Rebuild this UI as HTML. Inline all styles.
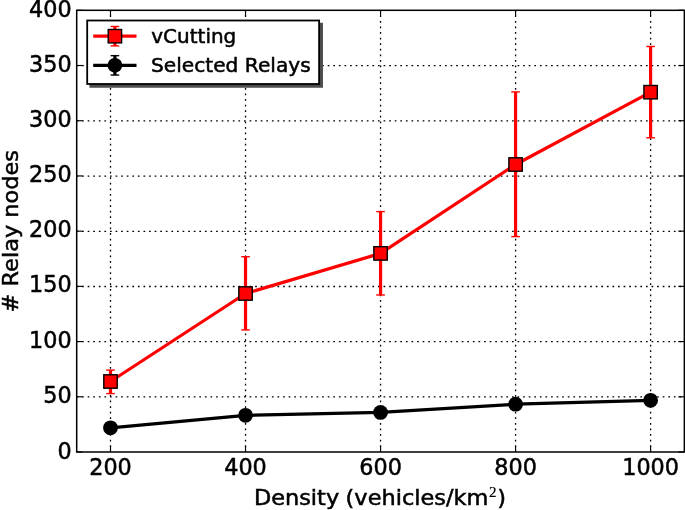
<!DOCTYPE html>
<html><head><meta charset="utf-8"><title>Relay nodes vs density</title>
<style>html,body{margin:0;padding:0;background:#fff}svg{display:block}text{font-family:"DejaVu Sans","Liberation Sans",sans-serif;fill:#000}</style></head><body>
<svg width="685" height="510" viewBox="0 0 685 510">
<rect width="685" height="510" fill="#fff"/>
<g stroke="#000" stroke-width="1.3" stroke-dasharray="1.7 3.883" stroke-dashoffset="0.55" fill="none">
<line x1="110.50" y1="452.0" x2="110.50" y2="10.3"/>
<line x1="245.53" y1="452.0" x2="245.53" y2="10.3"/>
<line x1="380.55" y1="452.0" x2="380.55" y2="10.3"/>
<line x1="515.58" y1="452.0" x2="515.58" y2="10.3"/>
<line x1="650.60" y1="452.0" x2="650.60" y2="10.3"/>
</g>
<g stroke="#000" stroke-width="1.3" stroke-dasharray="1.7 3.883" stroke-dashoffset="0.2" fill="none">
<line x1="76.7" y1="396.94" x2="684.1" y2="396.94"/>
<line x1="76.7" y1="341.72" x2="684.1" y2="341.72"/>
<line x1="76.7" y1="286.51" x2="684.1" y2="286.51"/>
<line x1="76.7" y1="231.30" x2="684.1" y2="231.30"/>
<line x1="76.7" y1="176.09" x2="684.1" y2="176.09"/>
<line x1="76.7" y1="120.88" x2="684.1" y2="120.88"/>
<line x1="76.7" y1="65.66" x2="684.1" y2="65.66"/>
</g>
<polyline points="110.50,381.50 245.53,293.50 380.55,253.40 515.58,164.50 650.60,92.20" fill="none" stroke="#f00" stroke-width="3.2" stroke-linejoin="round"/>
<polyline points="110.50,427.80 245.53,415.30 380.55,412.40 515.58,404.20 650.60,400.30" fill="none" stroke="#000" stroke-width="3.2" stroke-linejoin="round"/>
<g stroke="#f00" fill="none">
<line x1="110.50" y1="370.1" x2="110.50" y2="393.6" stroke-width="3.2"/>
<line x1="106.20" y1="370.1" x2="114.80" y2="370.1" stroke-width="1.4"/>
<line x1="106.20" y1="393.6" x2="114.80" y2="393.6" stroke-width="1.4"/>
<line x1="245.53" y1="256.7" x2="245.53" y2="329.9" stroke-width="3.2"/>
<line x1="241.22" y1="256.7" x2="249.83" y2="256.7" stroke-width="1.4"/>
<line x1="241.22" y1="329.9" x2="249.83" y2="329.9" stroke-width="1.4"/>
<line x1="380.55" y1="211.6" x2="380.55" y2="295.0" stroke-width="3.2"/>
<line x1="376.25" y1="211.6" x2="384.85" y2="211.6" stroke-width="1.4"/>
<line x1="376.25" y1="295.0" x2="384.85" y2="295.0" stroke-width="1.4"/>
<line x1="515.58" y1="91.9" x2="515.58" y2="236.6" stroke-width="3.2"/>
<line x1="511.28" y1="91.9" x2="519.88" y2="91.9" stroke-width="1.4"/>
<line x1="511.28" y1="236.6" x2="519.88" y2="236.6" stroke-width="1.4"/>
<line x1="650.60" y1="46.5" x2="650.60" y2="137.8" stroke-width="3.2"/>
<line x1="646.30" y1="46.5" x2="654.90" y2="46.5" stroke-width="1.4"/>
<line x1="646.30" y1="137.8" x2="654.90" y2="137.8" stroke-width="1.4"/>
</g>
<rect x="103.80" y="374.80" width="13.4" height="13.4" fill="#f00" stroke="#000" stroke-width="1.4"/>
<rect x="238.83" y="286.80" width="13.4" height="13.4" fill="#f00" stroke="#000" stroke-width="1.4"/>
<rect x="373.85" y="246.70" width="13.4" height="13.4" fill="#f00" stroke="#000" stroke-width="1.4"/>
<rect x="508.88" y="157.80" width="13.4" height="13.4" fill="#f00" stroke="#000" stroke-width="1.4"/>
<rect x="643.90" y="85.50" width="13.4" height="13.4" fill="#f00" stroke="#000" stroke-width="1.4"/>
<circle cx="110.50" cy="427.80" r="7.4" fill="#000"/>
<circle cx="245.53" cy="415.30" r="7.4" fill="#000"/>
<circle cx="380.55" cy="412.40" r="7.4" fill="#000"/>
<circle cx="515.58" cy="404.20" r="7.4" fill="#000"/>
<circle cx="650.60" cy="400.30" r="7.4" fill="#000"/>
<g stroke="#000" stroke-width="1.15">
<line x1="110.50" y1="452.0" x2="110.50" y2="446.2"/>
<line x1="110.50" y1="10.3" x2="110.50" y2="16.1"/>
<line x1="245.53" y1="452.0" x2="245.53" y2="446.2"/>
<line x1="245.53" y1="10.3" x2="245.53" y2="16.1"/>
<line x1="380.55" y1="452.0" x2="380.55" y2="446.2"/>
<line x1="380.55" y1="10.3" x2="380.55" y2="16.1"/>
<line x1="515.58" y1="452.0" x2="515.58" y2="446.2"/>
<line x1="515.58" y1="10.3" x2="515.58" y2="16.1"/>
<line x1="650.60" y1="452.0" x2="650.60" y2="446.2"/>
<line x1="650.60" y1="10.3" x2="650.60" y2="16.1"/>
<line x1="76.7" y1="452.00" x2="82.5" y2="452.00"/>
<line x1="684.1" y1="452.00" x2="678.3000000000001" y2="452.00"/>
<line x1="76.7" y1="396.79" x2="82.5" y2="396.79"/>
<line x1="684.1" y1="396.79" x2="678.3000000000001" y2="396.79"/>
<line x1="76.7" y1="341.57" x2="82.5" y2="341.57"/>
<line x1="684.1" y1="341.57" x2="678.3000000000001" y2="341.57"/>
<line x1="76.7" y1="286.36" x2="82.5" y2="286.36"/>
<line x1="684.1" y1="286.36" x2="678.3000000000001" y2="286.36"/>
<line x1="76.7" y1="231.15" x2="82.5" y2="231.15"/>
<line x1="684.1" y1="231.15" x2="678.3000000000001" y2="231.15"/>
<line x1="76.7" y1="175.94" x2="82.5" y2="175.94"/>
<line x1="684.1" y1="175.94" x2="678.3000000000001" y2="175.94"/>
<line x1="76.7" y1="120.73" x2="82.5" y2="120.73"/>
<line x1="684.1" y1="120.73" x2="678.3000000000001" y2="120.73"/>
<line x1="76.7" y1="65.51" x2="82.5" y2="65.51"/>
<line x1="684.1" y1="65.51" x2="678.3000000000001" y2="65.51"/>
<line x1="76.7" y1="10.30" x2="82.5" y2="10.30"/>
<line x1="684.1" y1="10.30" x2="678.3000000000001" y2="10.30"/>
</g>
<rect x="76.7" y="10.3" width="607.65" height="441.70" fill="none" stroke="#000" stroke-width="1.5"/>
<g font-size="22.3px" stroke="#000" stroke-width="0.5">
<text x="71.6" y="458.50" text-anchor="end">0</text>
<text x="71.6" y="402.89" text-anchor="end">50</text>
<text x="71.6" y="347.68" text-anchor="end">100</text>
<text x="71.6" y="292.46" text-anchor="end">150</text>
<text x="71.6" y="237.25" text-anchor="end">200</text>
<text x="71.6" y="182.04" text-anchor="end">250</text>
<text x="71.6" y="126.83" text-anchor="end">300</text>
<text x="71.6" y="71.61" text-anchor="end">350</text>
<text x="71.6" y="17.10" text-anchor="end">400</text>
<text x="110.50" y="475.3" text-anchor="middle">200</text>
<text x="245.53" y="475.3" text-anchor="middle">400</text>
<text x="380.55" y="475.3" text-anchor="middle">600</text>
<text x="515.58" y="475.3" text-anchor="middle">800</text>
<text x="650.60" y="475.3" text-anchor="middle">1000</text>
</g>
<text transform="translate(253.9,505.1) scale(1.079,1)" font-size="20.8px" stroke="#000" stroke-width="0.5">Density</text>
<text transform="translate(488.35,505.1) scale(1.079,1)" font-size="20.8px" stroke="#000" stroke-width="0.5" text-anchor="end">(vehicles/km</text>
<text x="488.9" y="497.0" style="font-family:'Liberation Serif',serif" font-size="15px" stroke="#000" stroke-width="0.2">2</text>
<text transform="translate(497.2,505.1) scale(1.079,1)" font-size="20.8px" stroke="#000" stroke-width="0.5">)</text>
<text transform="translate(17.7,312.4) rotate(-90) scale(1.079,1)" font-size="20.8px" stroke="#000" stroke-width="0.5"># Relay nodes</text>
<rect x="90.2" y="23.5" width="232" height="63.5" fill="#4c4c4c" stroke="#4c4c4c" stroke-width="1.5"/>
<rect x="87.2" y="20.5" width="231.9" height="63.5" fill="#fff" stroke="#000" stroke-width="1.8"/>
<g stroke="#f00" fill="none"><line x1="93.2" y1="36.2" x2="136.5" y2="36.2" stroke-width="3.2"/>
<line x1="114.9" y1="26.500000000000004" x2="114.9" y2="45.900000000000006" stroke-width="3.2"/>
<line x1="110.6" y1="26.500000000000004" x2="119.2" y2="26.500000000000004" stroke-width="1.4"/>
<line x1="110.6" y1="45.900000000000006" x2="119.2" y2="45.900000000000006" stroke-width="1.4"/></g>
<rect x="108.20" y="29.50" width="13.4" height="13.4" fill="#f00" stroke="#000" stroke-width="1.4"/>
<g stroke="#000" fill="none"><line x1="93.2" y1="65.35" x2="136.5" y2="65.35" stroke-width="3.2"/>
<line x1="114.9" y1="55.64999999999999" x2="114.9" y2="75.05" stroke-width="3.2"/>
<line x1="110.6" y1="55.64999999999999" x2="119.2" y2="55.64999999999999" stroke-width="1.4"/>
<line x1="110.6" y1="75.05" x2="119.2" y2="75.05" stroke-width="1.4"/></g>
<circle cx="114.9" cy="65.35" r="7.4" fill="#000"/>
<text transform="translate(151.3,43.4) scale(1.03,1)" font-size="19.4px" stroke="#000" stroke-width="0.5">vCutting</text>
<text transform="translate(151.0,71.8) scale(1.04,1)" font-size="19.4px" stroke="#000" stroke-width="0.5">Selected Relays</text>
</svg></body></html>
